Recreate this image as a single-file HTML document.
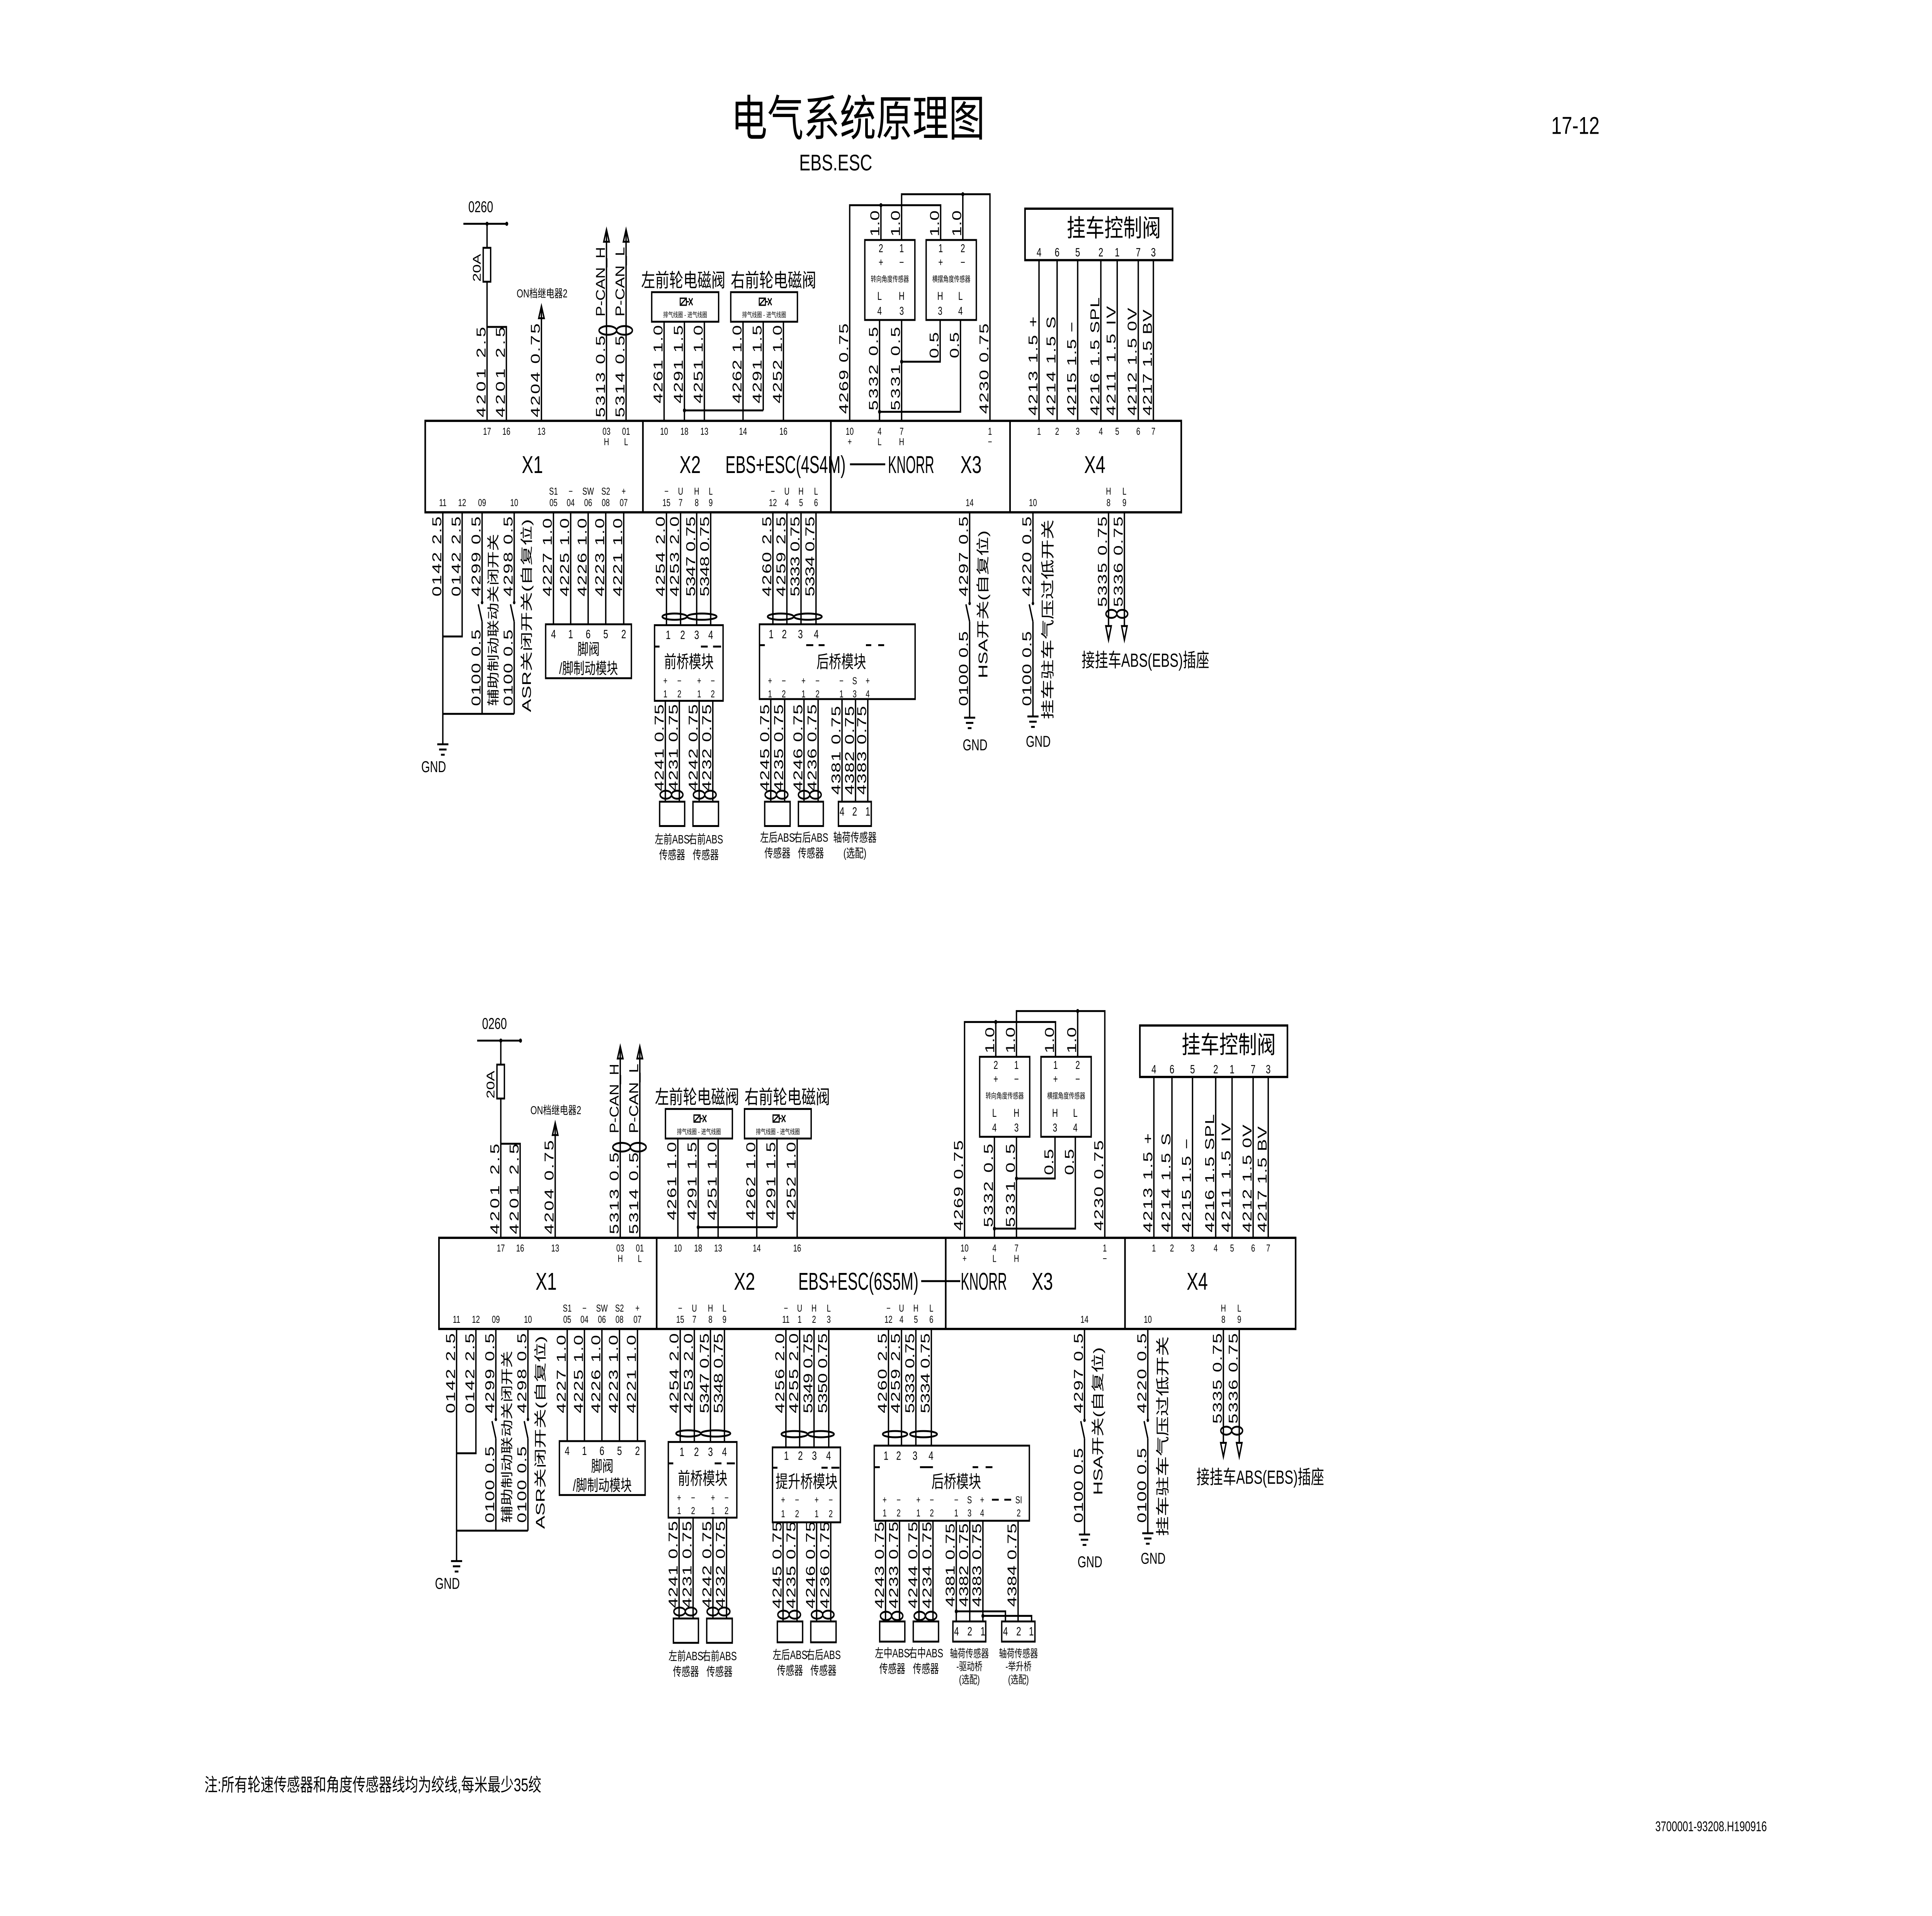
<!DOCTYPE html>
<html><head><meta charset="utf-8">
<style>
html,body{margin:0;padding:0;background:#fff;width:100%;height:100%;overflow:hidden;}
svg{display:block;position:fixed;left:0;top:0;width:100vw;height:100vh;}
text{font-family:"Liberation Sans","Noto Sans CJK SC",sans-serif;fill:#000;}
.w{stroke:#000;stroke-width:1.1;fill:none;}
.b{stroke:#000;stroke-width:1.3;fill:none;}
.l{font-size:10.5px;}
.p{font-size:5.8px;text-anchor:middle;}
.m{font-size:7px;text-anchor:middle;}
.c{text-anchor:middle;}
.s{font-size:4.4px;text-anchor:middle;}
</style></head>
<body>
<svg viewBox="0 0 1559.33 1101.78" preserveAspectRatio="none" xmlns="http://www.w3.org/2000/svg">
<rect x="0" y="0" width="1559.33" height="1101.78" fill="#fff"/>

<text x="590" y="78" style="font-size:28px" textLength="205" lengthAdjust="spacingAndGlyphs">电气系统原理图</text>
<text x="1252" y="77" style="font-size:14px" textLength="39" lengthAdjust="spacingAndGlyphs">17-12</text>
<text x="645" y="98" style="font-size:13px" textLength="59" lengthAdjust="spacingAndGlyphs">EBS.ESC</text>
<text x="165" y="1030" style="font-size:10.5px" textLength="272" lengthAdjust="spacingAndGlyphs">注:所有轮速传感器和角度传感器线均为绞线,每米最少35绞</text>
<text x="1336" y="1053" style="font-size:8px" textLength="90" lengthAdjust="spacingAndGlyphs">3700001-93208.H190916</text>

<defs>
<g id="gl">
<path class="w" d="M374 128.7H409M393.1 128.7V142.5M393.1 162V242M393.1 188H408.7V242M437 177V242M489.5 133V242M505.3 133V242
M536 185V242M552.4 185V242M568.5 185V242M599.7 185V242M616 185V236M632.3 185V242M552.4 236H616
M357.4 294.6V428M373 294.6V366H357.4M389.1 294.6V346.5M389.1 357.5V410.5M415 294.6V346.5M415 357.5V410.5M357.4 410.5H415
M389.1 357.5L386 347.5M415 357.5L412 347.5
M352.9 428h9M354.4 431h6M355.9 434h3
M446.7 294.6V359M460.6 294.6V359M474.7 294.6V359M488.9 294.6V359M503.4 294.6V359
M537.9 294.6V359.5M549.3 294.6V359.5M562.3 294.6V359.5M573.6 294.6V359.5
M537 403V461M548.3 403V461M564.3 403V461M575.3 403V461
M528.3 371.8h4M565.7 371.8h5.5M575.5 371.8h6.5"/>
<rect class="w" x="390" y="142.5" width="6" height="19.5" fill="#fff"/>
<circle cx="409" cy="128.7" r="1.2"/><circle cx="393.1" cy="128.7" r="1.2"/><circle cx="552.4" cy="236" r="1.2"/>
<circle cx="389.1" cy="346.5" r="1"/><circle cx="415" cy="346.5" r="1"/>
<path class="w" d="M437 176l-2.2 7h4.4zM489.5 132l-2.2 7h4.4zM505.3 132l-2.2 7h4.4z"/>
<ellipse class="w" cx="490.6" cy="190" rx="7.1" ry="2.5"/><ellipse class="w" cx="504" cy="190" rx="6.4" ry="2.5"/>
<text x="378" y="122" style="font-size:9px">0260</text>
<text transform="translate(388,162) rotate(-90)" style="font-size:9px">20A</text>
<text x="417" y="171" style="font-size:6.5px" textLength="41" lengthAdjust="spacingAndGlyphs">ON档继电器2</text>
<text class="l" transform="translate(391.8,240) rotate(-90)" textLength="52" lengthAdjust="spacing">4201 2.5</text>
<text class="l" transform="translate(407.4,240) rotate(-90)" textLength="52" lengthAdjust="spacing">4201 2.5</text>
<text class="l" transform="translate(435.7,240) rotate(-90)" textLength="54" lengthAdjust="spacing">4204 0.75</text>
<text class="l" transform="translate(488.2,240) rotate(-90)" textLength="47" lengthAdjust="spacing">5313 0.5</text>
<text class="l" transform="translate(504,240) rotate(-90)" textLength="47" lengthAdjust="spacing">5314 0.5</text>
<text class="l" transform="translate(488.2,182) rotate(-90)" textLength="40" lengthAdjust="spacingAndGlyphs">P-CAN_H</text>
<text class="l" transform="translate(504,182) rotate(-90)" textLength="40" lengthAdjust="spacingAndGlyphs">P-CAN_L</text>
<text x="517.5" y="165" style="font-size:11px" textLength="68" lengthAdjust="spacingAndGlyphs">左前轮电磁阀</text>
<text x="589.8" y="165" style="font-size:11px" textLength="69" lengthAdjust="spacingAndGlyphs">右前轮电磁阀</text>
<rect class="w" x="526" y="168" width="54" height="17"/><rect class="w" x="589.8" y="168" width="53.8" height="17"/>
<path class="w" style="stroke-width:0.8" d="M549 171.5h5v4h-5zM549 175.5l5-4M554 173.5h2M556 171.5l3 4M556 175.5l3-4M612.8 171.5h5v4h-5zM612.8 175.5l5-4M617.8 173.5h2M619.8 171.5l3 4M619.8 175.5l3-4"/>
<text class="s" x="553" y="182.5" style="font-size:4px">排气线圈 - 进气线圈</text>
<text class="s" x="616.7" y="182.5" style="font-size:4px">排气线圈 - 进气线圈</text>
<text class="l" transform="translate(534.7,232) rotate(-90)" textLength="45" lengthAdjust="spacing">4261 1.0</text>
<text class="l" transform="translate(551.1,232) rotate(-90)" textLength="45" lengthAdjust="spacing">4291 1.5</text>
<text class="l" transform="translate(567.2,232) rotate(-90)" textLength="45" lengthAdjust="spacing">4251 1.0</text>
<text class="l" transform="translate(598.4,232) rotate(-90)" textLength="45" lengthAdjust="spacing">4262 1.0</text>
<text class="l" transform="translate(614.7,232) rotate(-90)" textLength="45" lengthAdjust="spacing">4291 1.5</text>
<text class="l" transform="translate(631,232) rotate(-90)" textLength="45" lengthAdjust="spacing">4252 1.0</text>
<text class="p" x="393.1" y="250">17</text><text class="p" x="408.7" y="250">16</text><text class="p" x="437" y="250">13</text>
<text class="p" x="489.5" y="250">03</text><text class="p" x="505.3" y="250">01</text><text class="p" x="489.5" y="256">H</text><text class="p" x="505.3" y="256">L</text>
<text class="p" x="536" y="250">10</text><text class="p" x="552.4" y="250">18</text><text class="p" x="568.5" y="250">13</text><text class="p" x="599.7" y="250">14</text><text class="p" x="632.3" y="250">16</text>
<text class="p" x="357.4" y="291">11</text><text class="p" x="373" y="291">12</text><text class="p" x="389.1" y="291">09</text><text class="p" x="415" y="291">10</text>
<text class="p" x="446.7" y="291">05</text><text class="p" x="460.6" y="291">04</text><text class="p" x="474.7" y="291">06</text><text class="p" x="488.9" y="291">08</text><text class="p" x="503.4" y="291">07</text>
<text class="p" x="446.7" y="284.5">S1</text><text class="p" x="460.6" y="284.5">−</text><text class="p" x="474.7" y="284.5">SW</text><text class="p" x="488.9" y="284.5">S2</text><text class="p" x="503.4" y="284.5">+</text>
<text class="p" x="537.9" y="291">15</text><text class="p" x="549.3" y="291">7</text><text class="p" x="562.3" y="291">8</text><text class="p" x="573.6" y="291">9</text>
<text class="p" x="537.9" y="284.5">−</text><text class="p" x="549.3" y="284.5">U</text><text class="p" x="562.3" y="284.5">H</text><text class="p" x="573.6" y="284.5">L</text>
<text class="l" transform="translate(356.1,343) rotate(-90)" textLength="46" lengthAdjust="spacing">0142 2.5</text>
<text class="l" transform="translate(371.7,343) rotate(-90)" textLength="46" lengthAdjust="spacing">0142 2.5</text>
<text class="l" transform="translate(387.8,343) rotate(-90)" textLength="46" lengthAdjust="spacing">4299 0.5</text>
<text class="l" transform="translate(413.7,343) rotate(-90)" textLength="46" lengthAdjust="spacing">4298 0.5</text>
<text class="l" transform="translate(387.8,406) rotate(-90)" textLength="44" lengthAdjust="spacing">0100 0.5</text>
<text class="l" transform="translate(413.7,406) rotate(-90)" textLength="44" lengthAdjust="spacing">0100 0.5</text>
<text transform="translate(401.5,406) rotate(-90)" style="font-size:10px" textLength="99" lengthAdjust="spacingAndGlyphs">辅助制动联动关闭开关</text>
<text transform="translate(428.5,409.5) rotate(-90)" style="font-size:10px" textLength="111" lengthAdjust="spacingAndGlyphs">ASR关闭开关(自复位)</text>
<text x="340" y="444" style="font-size:9px">GND</text>
<text class="l" transform="translate(445.4,343) rotate(-90)" textLength="45" lengthAdjust="spacing">4227 1.0</text>
<text class="l" transform="translate(459.3,343) rotate(-90)" textLength="45" lengthAdjust="spacing">4225 1.0</text>
<text class="l" transform="translate(473.4,343) rotate(-90)" textLength="45" lengthAdjust="spacing">4226 1.0</text>
<text class="l" transform="translate(487.6,343) rotate(-90)" textLength="45" lengthAdjust="spacing">4223 1.0</text>
<text class="l" transform="translate(502.1,343) rotate(-90)" textLength="45" lengthAdjust="spacing">4221 1.0</text>
<rect class="w" x="440.4" y="359" width="69.2" height="31"/>
<text class="m" x="446.7" y="367">4</text><text class="m" x="460.6" y="367">1</text><text class="m" x="474.7" y="367">6</text><text class="m" x="488.9" y="367">5</text><text class="m" x="503.4" y="367">2</text>
<text class="c" x="475" y="376.5" style="font-size:9px">脚阀</text>
<text class="c" x="475" y="387.5" style="font-size:9px">/脚制动模块</text>
<text class="l" transform="translate(536.6,343) rotate(-90)" textLength="46" lengthAdjust="spacing">4254 2.0</text>
<text class="l" transform="translate(548,343) rotate(-90)" textLength="46" lengthAdjust="spacing">4253 2.0</text>
<text class="l" transform="translate(561,343) rotate(-90)" textLength="46" lengthAdjust="spacing">5347 0.75</text>
<text class="l" transform="translate(572.3,343) rotate(-90)" textLength="46" lengthAdjust="spacing">5348 0.75</text>
<ellipse class="w" cx="544.5" cy="354.6" rx="10" ry="1.8"/><ellipse class="w" cx="566.5" cy="354.6" rx="12" ry="1.8"/>
<rect class="w" x="528.3" y="359.5" width="55.3" height="43.5"/>
<text class="m" x="539.3" y="367.5">1</text><text class="m" x="551" y="367.5">2</text><text class="m" x="562.3" y="367.5">3</text><text class="m" x="573.6" y="367.5">4</text>
<text class="c" x="556" y="384" style="font-size:10px">前桥模块</text>
<text class="p" x="537" y="393.5">+</text><text class="p" x="548.3" y="393.5">−</text><text class="p" x="564.3" y="393.5">+</text><text class="p" x="575.3" y="393.5">−</text>
<text class="p" x="537" y="401">1</text><text class="p" x="548.3" y="401">2</text><text class="p" x="564.3" y="401">1</text><text class="p" x="575.3" y="401">2</text>
<text class="l" transform="translate(535.7,455) rotate(-90)" textLength="50" lengthAdjust="spacing">4241 0.75</text>
<text class="l" transform="translate(547,455) rotate(-90)" textLength="50" lengthAdjust="spacing">4231 0.75</text>
<text class="l" transform="translate(563,455) rotate(-90)" textLength="50" lengthAdjust="spacing">4242 0.75</text>
<text class="l" transform="translate(574,455) rotate(-90)" textLength="50" lengthAdjust="spacing">4232 0.75</text>
<ellipse class="w" cx="537.4" cy="457" rx="4.6" ry="2.3"/><ellipse class="w" cx="546.6" cy="457" rx="4.6" ry="2.3"/>
<ellipse class="w" cx="564.2" cy="457" rx="4.6" ry="2.3"/><ellipse class="w" cx="573.4" cy="457" rx="4.6" ry="2.3"/>
<rect class="w" x="532.4" y="461" width="20.2" height="14"/><rect class="w" x="559.3" y="461" width="20.6" height="14"/>
<text class="m" x="542.5" y="485">左前ABS</text><text class="m" x="542.5" y="494">传感器</text>
<text class="m" x="569.6" y="485">右前ABS</text><text class="m" x="569.6" y="494">传感器</text>
</g>

<g id="gr">
<path class="w" d="M685.8 242V118H759.2V138M711 118V138M727.7 138V111.7H799V242M777.1 111.7V138
M709.9 184V242M727.7 184V242M758.8 184V208H727.7M775.2 184V236.8H709.9
M838.6 149.6V242M853.2 149.6V242M869.8 149.6V242M888.5 149.6V242M901.7 149.6V242M918.7 149.6V242M930.9 149.6V242
M782.6 294.6V347M782.6 357.5V412.7M782.6 357.5L779.6 347.5M778.1 412.7h9M779.6 415.7h6M781.1 418.7h3
M833.7 294.6V347M833.7 357.5V412M833.7 357.5L830.7 347.5M829.2 412h9M830.7 415h6M832.2 418h3
M894.7 294.6V360M907.5 294.6V360M894.7 368l-2.2-8h4.4zM907.5 368l-2.2-8h4.4z"/>
<rect class="w" x="698" y="138" width="40.4" height="46"/><rect class="w" x="747.5" y="138" width="40.5" height="46"/>
<circle cx="711" cy="118" r="1.2"/><circle cx="777.1" cy="111.7" r="1.2"/><circle cx="727.7" cy="208" r="1.2"/><circle cx="709.9" cy="236.8" r="1.2"/>
<circle cx="782.6" cy="347" r="1"/><circle cx="833.7" cy="347" r="1"/>
<ellipse class="w" cx="897" cy="353" rx="4.4" ry="2.3"/><ellipse class="w" cx="905.8" cy="353" rx="4.4" ry="2.3"/>
<text class="l" transform="translate(684.5,238) rotate(-90)" textLength="52" lengthAdjust="spacing">4269 0.75</text>
<text class="l" transform="translate(709.7,136) rotate(-90)" textLength="15" lengthAdjust="spacing">1.0</text>
<text class="l" transform="translate(726.4,136) rotate(-90)" textLength="15" lengthAdjust="spacing">1.0</text>
<text class="l" transform="translate(757.9,136) rotate(-90)" textLength="15" lengthAdjust="spacing">1.0</text>
<text class="l" transform="translate(775.8,136) rotate(-90)" textLength="15" lengthAdjust="spacing">1.0</text>
<text class="l" transform="translate(708.6,236) rotate(-90)" textLength="48" lengthAdjust="spacing">5332 0.5</text>
<text class="l" transform="translate(726.4,236) rotate(-90)" textLength="48" lengthAdjust="spacing">5331 0.5</text>
<text class="l" transform="translate(757.5,206) rotate(-90)" textLength="15" lengthAdjust="spacing">0.5</text>
<text class="l" transform="translate(773.9,206) rotate(-90)" textLength="15" lengthAdjust="spacing">0.5</text>
<text class="l" transform="translate(797.7,238) rotate(-90)" textLength="52" lengthAdjust="spacing">4230 0.75</text>
<text style="font-size:6.5px" class="c" x="711" y="145">2</text><text style="font-size:6.5px" class="c" x="727.7" y="145">1</text>
<text style="font-size:6.5px" class="c" x="711" y="153">+</text><text style="font-size:6.5px" class="c" x="727.7" y="153">−</text>
<text class="s" x="718.2" y="162">转向角度传感器</text>
<text style="font-size:6.5px" class="c" x="709.9" y="172.5">L</text><text style="font-size:6.5px" class="c" x="727.7" y="172.5">H</text>
<text style="font-size:6.5px" class="c" x="709.9" y="181">4</text><text style="font-size:6.5px" class="c" x="727.7" y="181">3</text>
<text style="font-size:6.5px" class="c" x="759.2" y="145">1</text><text style="font-size:6.5px" class="c" x="777.1" y="145">2</text>
<text style="font-size:6.5px" class="c" x="759.2" y="153">+</text><text style="font-size:6.5px" class="c" x="777.1" y="153">−</text>
<text class="s" x="767.8" y="162">横摆角度传感器</text>
<text style="font-size:6.5px" class="c" x="758.8" y="172.5">H</text><text style="font-size:6.5px" class="c" x="775.2" y="172.5">L</text>
<text style="font-size:6.5px" class="c" x="758.8" y="181">3</text><text style="font-size:6.5px" class="c" x="775.2" y="181">4</text>
<text class="p" x="685.8" y="250">10</text><text class="p" x="685.8" y="256">+</text>
<text class="p" x="709.9" y="250">4</text><text class="p" x="709.9" y="256">L</text>
<text class="p" x="727.7" y="250">7</text><text class="p" x="727.7" y="256">H</text>
<text class="p" x="799" y="250">1</text><text class="p" x="799" y="256">−</text>
<text class="p" x="782.6" y="291">14</text>
<rect class="b" x="827.3" y="120" width="119.1" height="29.6"/>
<text x="861" y="136" style="font-size:14px" textLength="76" lengthAdjust="spacingAndGlyphs">挂车控制阀</text>
<text class="m" x="838.6" y="147.5">4</text><text class="m" x="853.2" y="147.5">6</text><text class="m" x="869.8" y="147.5">5</text><text class="m" x="888.5" y="147.5">2</text><text class="m" x="901.7" y="147.5">1</text><text class="m" x="918.7" y="147.5">7</text><text class="m" x="930.9" y="147.5">3</text>
<text class="l" transform="translate(837.3,239) rotate(-90)" textLength="57" lengthAdjust="spacing">4213 1.5 +</text>
<text class="l" transform="translate(851.9,239) rotate(-90)" textLength="57" lengthAdjust="spacing">4214 1.5 S</text>
<text class="l" transform="translate(868.5,239) rotate(-90)" textLength="54" lengthAdjust="spacing">4215 1.5 −</text>
<text class="l" transform="translate(887.2,239) rotate(-90)" textLength="68" lengthAdjust="spacing">4216 1.5 SPL</text>
<text class="l" transform="translate(900.4,239) rotate(-90)" textLength="63" lengthAdjust="spacing">4211 1.5 IV</text>
<text class="l" transform="translate(917.4,239) rotate(-90)" textLength="62" lengthAdjust="spacing">4212 1.5 0V</text>
<text class="l" transform="translate(929.6,239) rotate(-90)" textLength="61" lengthAdjust="spacing">4217 1.5 BV</text>
<text class="p" x="838.6" y="250">1</text><text class="p" x="853.2" y="250">2</text><text class="p" x="869.8" y="250">3</text><text class="p" x="888.5" y="250">4</text><text class="p" x="901.7" y="250">5</text><text class="p" x="918.7" y="250">6</text><text class="p" x="930.9" y="250">7</text>
<text class="p" x="833.7" y="291">10</text>
<text class="p" x="894.7" y="291">8</text><text class="p" x="907.5" y="291">9</text><text class="p" x="894.7" y="284.5">H</text><text class="p" x="907.5" y="284.5">L</text>
<text class="l" transform="translate(781.3,343) rotate(-90)" textLength="46" lengthAdjust="spacing">4297 0.5</text>
<text class="l" transform="translate(781.3,406) rotate(-90)" textLength="43" lengthAdjust="spacing">0100 0.5</text>
<text transform="translate(797,390) rotate(-90)" style="font-size:10.5px" textLength="85" lengthAdjust="spacingAndGlyphs">HSA开关(自复位)</text>
<text class="c" x="787" y="431.5" style="font-size:9px">GND</text>
<text class="l" transform="translate(832.4,343) rotate(-90)" textLength="46" lengthAdjust="spacing">4220 0.5</text>
<text class="l" transform="translate(832.4,406) rotate(-90)" textLength="43" lengthAdjust="spacing">0100 0.5</text>
<text transform="translate(849.6,413.7) rotate(-90)" style="font-size:11px" textLength="115" lengthAdjust="spacingAndGlyphs">挂车驻车气压过低开关</text>
<text class="c" x="838" y="429.5" style="font-size:9px">GND</text>
<text class="l" transform="translate(893.4,349) rotate(-90)" textLength="52" lengthAdjust="spacing">5335 0.75</text>
<text class="l" transform="translate(906.2,349) rotate(-90)" textLength="52" lengthAdjust="spacing">5336 0.75</text>
<text x="873" y="383.5" style="font-size:11px" textLength="103" lengthAdjust="spacingAndGlyphs">接挂车ABS(EBS)插座</text>
</g>
</defs>

<use href="#gl"/>
<use href="#gr"/>
<rect class="b" x="343.2" y="242" width="610.2" height="52.6"/>
<path class="b" d="M518.9 242V294.6M670.6 242V294.6M815.2 242V294.6"/>
<text class="c" x="429.7" y="272" style="font-size:14px">X1</text>
<text class="c" x="557" y="272" style="font-size:14px">X2</text>
<text x="585.5" y="272" style="font-size:14px" textLength="97" lengthAdjust="spacingAndGlyphs">EBS+ESC(4S4M)</text>
<path class="w" d="M686 267H714.5"/>
<text x="716.7" y="272" style="font-size:14px" textLength="37.3" lengthAdjust="spacingAndGlyphs">KNORR</text>
<text class="c" x="783.7" y="272" style="font-size:14px">X3</text>
<text class="c" x="883.6" y="272" style="font-size:14px">X4</text>

<path class="w" d="M623.8 294.6V359M635.1 294.6V359M646.5 294.6V359M658.6 294.6V359
M622.1 402V461M633.3 402V461M648.9 402V461M660.3 402V461M679.6 402V461M690.5 402V461M700.4 402V461
M613 371h4.3M650.7 371h5.7M660.7 371h4.8M698.9 371h4.3M708.8 371h4.8"/>
<ellipse class="w" cx="630.1" cy="354.6" rx="10.6" ry="1.8"/><ellipse class="w" cx="652.1" cy="354.6" rx="11.3" ry="1.8"/>
<rect class="w" x="613" y="359" width="125.6" height="43"/>
<text class="p" x="623.8" y="291">12</text><text class="p" x="635.1" y="291">4</text><text class="p" x="646.5" y="291">5</text><text class="p" x="658.6" y="291">6</text>
<text class="p" x="623.8" y="284.5">−</text><text class="p" x="635.1" y="284.5">U</text><text class="p" x="646.5" y="284.5">H</text><text class="p" x="658.6" y="284.5">L</text>
<text class="l" transform="translate(622.5,343) rotate(-90)" textLength="46" lengthAdjust="spacing">4260 2.5</text>
<text class="l" transform="translate(633.8,343) rotate(-90)" textLength="46" lengthAdjust="spacing">4259 2.5</text>
<text class="l" transform="translate(645.2,343) rotate(-90)" textLength="46" lengthAdjust="spacing">5333 0.75</text>
<text class="l" transform="translate(657.3,343) rotate(-90)" textLength="46" lengthAdjust="spacing">5334 0.75</text>
<text class="m" x="622.4" y="367">1</text><text class="m" x="633" y="367">2</text><text class="m" x="646" y="367">3</text><text class="m" x="658.8" y="367">4</text>
<text class="c" x="679" y="384" style="font-size:10px">后桥模块</text>
<text class="p" x="621.5" y="393.5">+</text><text class="p" x="632.6" y="393.5">−</text><text class="p" x="648.5" y="393.5">+</text><text class="p" x="659.8" y="393.5">−</text><text class="p" x="679.1" y="393.5">−</text><text class="p" x="689.8" y="393.5">S</text><text class="p" x="700.3" y="393.5">+</text>
<text class="p" x="621.5" y="401">1</text><text class="p" x="632.6" y="401">2</text><text class="p" x="648.5" y="401">1</text><text class="p" x="659.8" y="401">2</text><text class="p" x="679.1" y="401">1</text><text class="p" x="689.8" y="401">3</text><text class="p" x="700.3" y="401">4</text>
<text class="l" transform="translate(620.8,455) rotate(-90)" textLength="50" lengthAdjust="spacing">4245 0.75</text>
<text class="l" transform="translate(632,455) rotate(-90)" textLength="50" lengthAdjust="spacing">4235 0.75</text>
<text class="l" transform="translate(647.6,455) rotate(-90)" textLength="50" lengthAdjust="spacing">4246 0.75</text>
<text class="l" transform="translate(659,455) rotate(-90)" textLength="50" lengthAdjust="spacing">4236 0.75</text>
<text class="l" transform="translate(678.3,457) rotate(-90)" textLength="51" lengthAdjust="spacing">4381 0.75</text>
<text class="l" transform="translate(689.2,457) rotate(-90)" textLength="51" lengthAdjust="spacing">4382 0.75</text>
<text class="l" transform="translate(699.1,457) rotate(-90)" textLength="51" lengthAdjust="spacing">4383 0.75</text>
<ellipse class="w" cx="622.1" cy="457" rx="4.6" ry="2.3"/><ellipse class="w" cx="631.3" cy="457" rx="4.6" ry="2.3"/>
<ellipse class="w" cx="649" cy="457" rx="4.6" ry="2.3"/><ellipse class="w" cx="658.2" cy="457" rx="4.6" ry="2.3"/>
<rect class="w" x="617.2" y="461" width="20.5" height="14"/><rect class="w" x="644.4" y="461" width="20.1" height="14"/><rect class="w" x="676.7" y="461" width="26.5" height="14"/>
<text class="m" x="679.6" y="469">4</text><text class="m" x="689.8" y="469">2</text><text class="m" x="700.4" y="469">1</text>
<text class="m" x="627.5" y="484">左后ABS</text><text class="m" x="627.5" y="493">传感器</text>
<text class="m" x="654.5" y="484">右后ABS</text><text class="m" x="654.5" y="493">传感器</text>
<text class="m" x="690" y="484">轴荷传感器</text><text class="m" x="690" y="493">(选配)</text>

<use href="#gl" transform="translate(11.1,469.7)"/>
<use href="#gr" transform="translate(92.7,469.7)"/>
<rect class="b" x="354.3" y="711.8" width="691.4" height="52.4"/>
<path class="b" d="M530 711.8V764.2M763.3 711.8V764.2M908 711.8V764.2"/>
<text class="c" x="440.8" y="741.7" style="font-size:14px">X1</text>
<text class="c" x="600.9" y="741.7" style="font-size:14px">X2</text>
<text x="644.3" y="741.7" style="font-size:14px" textLength="97" lengthAdjust="spacingAndGlyphs">EBS+ESC(6S5M)</text>
<path class="w" d="M743.5 736.7H775"/>
<text x="775.4" y="741.7" style="font-size:14px" textLength="37.3" lengthAdjust="spacingAndGlyphs">KNORR</text>
<text class="c" x="841.3" y="741.7" style="font-size:14px">X3</text>
<text class="c" x="966.3" y="741.7" style="font-size:14px">X4</text>

<path class="w" d="M634.3 764.2V832.3M645.4 764.2V832.3M657 764.2V832.3M668.9 764.2V832.3
M632 875.4V932.4M643.3 875.4V932.4M659.1 875.4V932.4M670.5 875.4V932.4
M623.5 844h4M663 844h5M671 844h6.5"/>
<ellipse class="w" cx="641.2" cy="824.7" rx="10.6" ry="1.8"/><ellipse class="w" cx="662.6" cy="824.7" rx="10.6" ry="1.8"/>
<rect class="w" x="623.5" y="832.3" width="54.8" height="43.1"/>
<text class="p" x="634.3" y="760.7">11</text><text class="p" x="645.4" y="760.7">1</text><text class="p" x="657" y="760.7">2</text><text class="p" x="668.9" y="760.7">3</text>
<text class="p" x="634.3" y="754.2">−</text><text class="p" x="645.4" y="754.2">U</text><text class="p" x="657" y="754.2">H</text><text class="p" x="668.9" y="754.2">L</text>
<text class="l" transform="translate(633,812.7) rotate(-90)" textLength="46" lengthAdjust="spacing">4256 2.0</text>
<text class="l" transform="translate(644.1,812.7) rotate(-90)" textLength="46" lengthAdjust="spacing">4255 2.0</text>
<text class="l" transform="translate(655.7,812.7) rotate(-90)" textLength="46" lengthAdjust="spacing">5349 0.75</text>
<text class="l" transform="translate(667.6,812.7) rotate(-90)" textLength="46" lengthAdjust="spacing">5350 0.75</text>
<text class="m" x="634.7" y="839.5">1</text><text class="m" x="646" y="839.5">2</text><text class="m" x="657.3" y="839.5">3</text><text class="m" x="668.7" y="839.5">4</text>
<text class="c" x="651" y="855.5" style="font-size:10px">提升桥模块</text>
<text class="p" x="632" y="864.5">+</text><text class="p" x="643.3" y="864.5">−</text><text class="p" x="659.1" y="864.5">+</text><text class="p" x="670.5" y="864.5">−</text>
<text class="p" x="632" y="872.5">1</text><text class="p" x="643.3" y="872.5">2</text><text class="p" x="659.1" y="872.5">1</text><text class="p" x="670.5" y="872.5">2</text>
<text class="l" transform="translate(630.7,925) rotate(-90)" textLength="50" lengthAdjust="spacing">4245 0.75</text>
<text class="l" transform="translate(642,925) rotate(-90)" textLength="50" lengthAdjust="spacing">4235 0.75</text>
<text class="l" transform="translate(657.8,925) rotate(-90)" textLength="50" lengthAdjust="spacing">4246 0.75</text>
<text class="l" transform="translate(669.2,925) rotate(-90)" textLength="50" lengthAdjust="spacing">4236 0.75</text>
<ellipse class="w" cx="632.4" cy="928.5" rx="4.6" ry="2.3"/><ellipse class="w" cx="641.5" cy="928.5" rx="4.6" ry="2.3"/>
<ellipse class="w" cx="659.5" cy="928.5" rx="4.6" ry="2.3"/><ellipse class="w" cx="668.5" cy="928.5" rx="4.6" ry="2.3"/>
<rect class="w" x="627.4" y="932.4" width="20.4" height="12"/><rect class="w" x="654.4" y="932.4" width="20.4" height="12"/>
<text class="m" x="637.6" y="954">左后ABS</text><text class="m" x="637.6" y="963">传感器</text>
<text class="m" x="664.6" y="954">右后ABS</text><text class="m" x="664.6" y="963">传感器</text>

<path class="w" d="M717.1 764.2V831.3M727.6 764.2V831.3M739.2 764.2V831.3M751.7 764.2V831.3
M714.7 874.5V932.4M726 874.5V932.4M741.7 874.5V932.4M753 874.5V932.4
M771.8 874.5V932.4M782.7 874.5V932.4M793.3 874.5V932.4M821.7 874.5V932.4
M771.8 926.6H811.5V932.4M793.3 929.2H832.6V932.4
M705.6 843.7h4.5M742.5 843.7h4M746 843.7h7M785 843.7h4.5M795.5 843.7h5.5M800.6 862.4h5.5M810.6 862.4h5.5"/>
<circle cx="771.8" cy="926.6" r="1.2"/><circle cx="793.3" cy="929.2" r="1.2"/>
<ellipse class="w" cx="722.4" cy="824.7" rx="10" ry="1.8"/><ellipse class="w" cx="745.4" cy="824.7" rx="11" ry="1.8"/>
<rect class="w" x="705.6" y="831.3" width="125.2" height="43.2"/>
<text class="p" x="717.1" y="760.7">12</text><text class="p" x="727.6" y="760.7">4</text><text class="p" x="739.2" y="760.7">5</text><text class="p" x="751.7" y="760.7">6</text>
<text class="p" x="717.1" y="754.2">−</text><text class="p" x="727.6" y="754.2">U</text><text class="p" x="739.2" y="754.2">H</text><text class="p" x="751.7" y="754.2">L</text>
<text class="l" transform="translate(715.8,812.7) rotate(-90)" textLength="46" lengthAdjust="spacing">4260 2.5</text>
<text class="l" transform="translate(726.3,812.7) rotate(-90)" textLength="46" lengthAdjust="spacing">4259 2.5</text>
<text class="l" transform="translate(737.9,812.7) rotate(-90)" textLength="46" lengthAdjust="spacing">5333 0.75</text>
<text class="l" transform="translate(750.4,812.7) rotate(-90)" textLength="46" lengthAdjust="spacing">5334 0.75</text>
<text class="m" x="715.1" y="839.5">1</text><text class="m" x="725.3" y="839.5">2</text><text class="m" x="738.5" y="839.5">3</text><text class="m" x="751.4" y="839.5">4</text>
<text class="c" x="771.8" y="855.5" style="font-size:10px">后桥模块</text>
<text class="p" x="714" y="864.5">+</text><text class="p" x="725.3" y="864.5">−</text><text class="p" x="741.2" y="864.5">+</text><text class="p" x="752.1" y="864.5">−</text><text class="p" x="771.8" y="864.5">−</text><text class="p" x="782.5" y="864.5">S</text><text class="p" x="792.7" y="864.5">+</text><text class="p" x="822.2" y="864.5">SI</text>
<text class="p" x="714" y="872">1</text><text class="p" x="725.3" y="872">2</text><text class="p" x="741.2" y="872">1</text><text class="p" x="752.1" y="872">2</text><text class="p" x="771.8" y="872">1</text><text class="p" x="782.5" y="872">3</text><text class="p" x="792.7" y="872">4</text><text class="p" x="822.2" y="872">2</text>
<text class="l" transform="translate(713.4,925) rotate(-90)" textLength="50" lengthAdjust="spacing">4243 0.75</text>
<text class="l" transform="translate(724.7,925) rotate(-90)" textLength="50" lengthAdjust="spacing">4233 0.75</text>
<text class="l" transform="translate(740.4,925) rotate(-90)" textLength="50" lengthAdjust="spacing">4244 0.75</text>
<text class="l" transform="translate(751.7,925) rotate(-90)" textLength="50" lengthAdjust="spacing">4234 0.75</text>
<text class="l" transform="translate(770.5,924) rotate(-90)" textLength="48" lengthAdjust="spacing">4381 0.75</text>
<text class="l" transform="translate(781.4,924) rotate(-90)" textLength="48" lengthAdjust="spacing">4382 0.75</text>
<text class="l" transform="translate(792,924) rotate(-90)" textLength="48" lengthAdjust="spacing">4383 0.75</text>
<text class="l" transform="translate(820.4,924) rotate(-90)" textLength="48" lengthAdjust="spacing">4384 0.75</text>
<ellipse class="w" cx="715.1" cy="929.2" rx="4.5" ry="2.4"/><ellipse class="w" cx="724.2" cy="929.2" rx="4.5" ry="2.4"/>
<ellipse class="w" cx="742.3" cy="929.2" rx="4.5" ry="2.4"/><ellipse class="w" cx="751.5" cy="929.2" rx="4.5" ry="2.4"/>
<rect class="w" x="710" y="932.4" width="20.3" height="11.6"/><rect class="w" x="737.1" y="932.4" width="20.4" height="11.6"/>
<rect class="w" x="769.1" y="932.4" width="26.5" height="11.6"/><rect class="w" x="808.5" y="932.4" width="26.8" height="11.6"/>
<text class="m" x="772" y="940.5">4</text><text class="m" x="782.7" y="940.5">2</text><text class="m" x="793.3" y="940.5">1</text>
<text class="m" x="811.5" y="940.5">4</text><text class="m" x="822.2" y="940.5">2</text><text class="m" x="832.4" y="940.5">1</text>
<text class="m" x="720.2" y="953">左中ABS</text><text class="m" x="720.2" y="962">传感器</text>
<text class="m" x="747.3" y="953">右中ABS</text><text class="m" x="747.3" y="962">传感器</text>
<text class="c" x="782.4" y="953" style="font-size:6.3px">轴荷传感器</text><text class="c" x="782.4" y="960.5" style="font-size:6.3px">-驱动桥</text><text class="c" x="782.4" y="968" style="font-size:6.3px">(选配)</text>
<text class="c" x="822" y="953" style="font-size:6.3px">轴荷传感器</text><text class="c" x="822" y="960.5" style="font-size:6.3px">-举升桥</text><text class="c" x="822" y="968" style="font-size:6.3px">(选配)</text>
</svg>
</body></html>
